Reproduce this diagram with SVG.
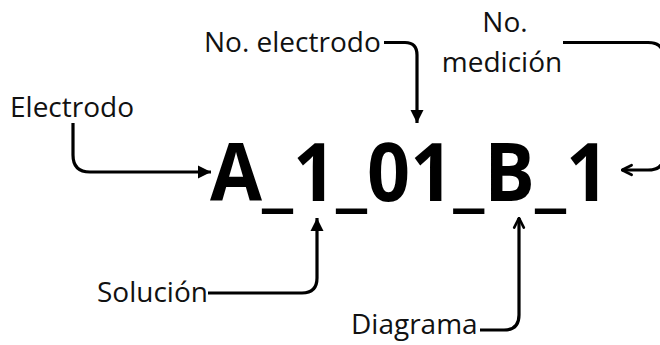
<svg xmlns="http://www.w3.org/2000/svg" width="660" height="345" viewBox="0 0 660 345">
<defs>
<marker id="tri" viewBox="0 0 10 10" refX="10" refY="5" markerWidth="13" markerHeight="16" markerUnits="userSpaceOnUse" orient="auto">
<path d="M0,0 L10,5 L0,10 Z" fill="#000"/>
</marker>
<marker id="chev" viewBox="0 0 10 10" refX="9" refY="5" markerWidth="12" markerHeight="14" markerUnits="userSpaceOnUse" orient="auto">
<path d="M1,1 L9,5 L1,9" fill="none" stroke="#000" stroke-width="2.2" stroke-linecap="round" stroke-linejoin="round"/>
</marker>
<style>
.lbl{font-family:"Open Sans","Noto Sans",sans-serif;font-size:28px;fill:#111}
.code{font-family:"Open Sans","Noto Sans",sans-serif;font-size:80px;font-weight:700;fill:#000}
.c{fill:none;stroke:#000;stroke-width:3.2}
</style>
</defs>
<rect width="660" height="345" fill="#fff"/>
<g id="code"><text class="code" x="210" y="201" textLength="399" lengthAdjust="spacingAndGlyphs">A_1_01_B_1</text></g>
<g id="electrodo"><text class="lbl" x="10" y="117">Electrodo</text></g>
<g id="no-electrodo"><text class="lbl" x="204" y="52">No. electrodo</text></g>
<g id="no-medicion"><text class="lbl" x="505" y="32" text-anchor="middle">No.</text><text class="lbl" x="502" y="72" text-anchor="middle">medición</text></g>
<g id="solucion"><text class="lbl" x="97" y="302">Solución</text></g>
<g id="diagrama"><text class="lbl" x="351" y="334">Diagrama</text></g>
<g id="connectors">
<path class="c" d="M384,42.5 H405 Q417,42.5 417,55 V123" marker-end="url(#tri)"/>
<path class="c" d="M73,123 V155 Q73,172 90,172 H211" marker-end="url(#tri)"/>
<path class="c" d="M563,42.5 H648 Q664,42.5 664,58 V155 Q664,170 648,170 H622" marker-end="url(#chev)"/>
<path class="c" d="M208,293 H302 Q317,293 317,278 V218" marker-end="url(#tri)"/>
<path class="c" d="M480,330 H504 Q519,330 519,315 V218" marker-end="url(#chev)"/>
</g>
</svg>
